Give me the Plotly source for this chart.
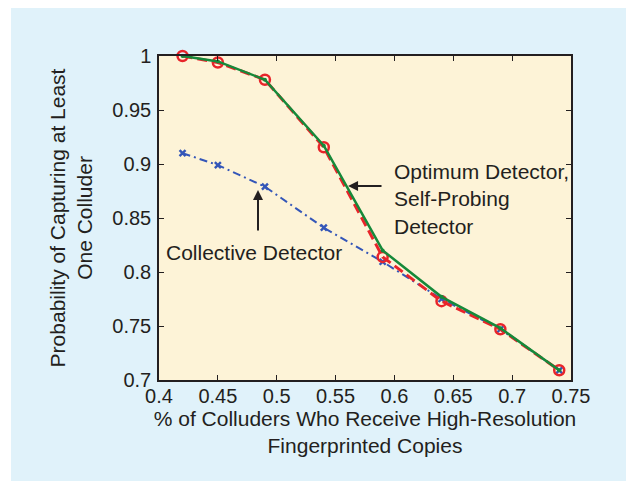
import plotly.graph_objects as go

x_vals = [0.42, 0.45, 0.49, 0.54, 0.59, 0.64, 0.69, 0.74]
optimum = [1.0, 0.995, 0.978, 0.917, 0.820, 0.777, 0.748, 0.709]
self_probing = [1.0, 0.994, 0.978, 0.9155, 0.814, 0.773, 0.747, 0.709]
collective = [0.910, 0.899, 0.879, 0.841, 0.8095, 0.775, 0.747, 0.709]

x_ticks = [0.4, 0.45, 0.5, 0.55, 0.6, 0.65, 0.7, 0.75]
x_tick_text = ["0.4", "0.45", "0.5", "0.55", "0.6", "0.65", "0.7", "0.75"]
y_ticks = [0.7, 0.75, 0.8, 0.85, 0.9, 0.95, 1.0]
y_tick_text = ["0.7", "0.75", "0.8", "0.85", "0.9", "0.95", "1"]

FONT = "Liberation Sans, Arial, Helvetica, sans-serif"
TXT = "#231f20"
GREEN = "#16893a"
RED = "#e8242a"
BLUE = "#3456b8"

fig = go.Figure()
fig.add_trace(go.Scatter(x=x_vals, y=collective, mode="lines+markers", cliponaxis=False,
                         line=dict(color=BLUE, width=2, dash="8px,4px,2px,4px"),
                         marker=dict(symbol="x-thin", size=6, line=dict(color=BLUE, width=2.4))))
fig.add_trace(go.Scatter(x=x_vals, y=self_probing, mode="lines+markers", cliponaxis=False,
                         line=dict(color=RED, width=3, dash="10px,5px"),
                         marker=dict(symbol="circle-open", size=10, color=RED, line=dict(color=RED, width=2.5))))
fig.add_trace(go.Scatter(x=x_vals, y=optimum, mode="lines+markers", cliponaxis=False,
                         line=dict(color=GREEN, width=2.5),
                         marker=dict(symbol="circle", size=4, color=GREEN)))

axis_common = dict(showgrid=False, zeroline=False, showline=True, linecolor="#231f20", linewidth=1.5,
                   mirror="ticks", ticks="inside", ticklen=5, tickwidth=1, tickcolor="#231f20",
                   tickfont=dict(family=FONT, size=20, color=TXT))

fig.update_xaxes(range=[0.4, 0.75], tickvals=x_ticks, ticktext=x_tick_text, ticklabelstandoff=-3,
                 title=dict(text="% of Colluders Who Receive High-Resolution<br>Fingerprinted Copies",
                            font=dict(family=FONT, size=21, color=TXT), standoff=5),
                 **axis_common)
fig.update_yaxes(range=[0.7, 1.0], tickvals=y_ticks, ticktext=y_tick_text, ticklabelstandoff=2,
                 title=dict(text="Probability of Capturing at Least<br>One Colluder",
                            font=dict(family=FONT, size=21, color=TXT), standoff=14),
                 **axis_common)

# arrows
fig.add_annotation(x=0.5606, y=0.8796, ax=0.5903, ay=0.8796, axref="x", ayref="y", xref="x", yref="y",
                   text="", showarrow=True, arrowhead=2, arrowsize=1, arrowwidth=2, arrowcolor=TXT)
fig.add_annotation(x=0.4841, y=0.876, ax=0.4841, ay=0.837, axref="x", ayref="y", xref="x", yref="y",
                   text="", showarrow=True, arrowhead=2, arrowsize=1, arrowwidth=2, arrowcolor=TXT)
fig.add_annotation(x=0.598, y=0.8676, xref="x", yref="y", xanchor="left", yanchor="middle", align="left",
                   text="Optimum Detector,<br>Self-Probing<br>Detector", showarrow=False,
                   font=dict(family=FONT, size=21, color=TXT))
fig.add_annotation(x=0.4042, y=0.8185, xref="x", yref="y", xanchor="left", yanchor="middle", align="left",
                   text="Collective Detector", showarrow=False,
                   font=dict(family=FONT, size=21, color=TXT))

# white outer border strip on the left
fig.add_shape(type="rect", xref="paper", yref="paper", x0=-0.5, x1=(3 - 151) / 412, y0=-0.5, y1=1.3,
              fillcolor="white", line=dict(width=0), layer="below")

fig.update_layout(width=634, height=481, margin=dict(l=151, r=71, t=48, b=109),
                  paper_bgcolor="#e0f2fa", plot_bgcolor="#fdf3d7", showlegend=False)

fig.write_html("out.html")
